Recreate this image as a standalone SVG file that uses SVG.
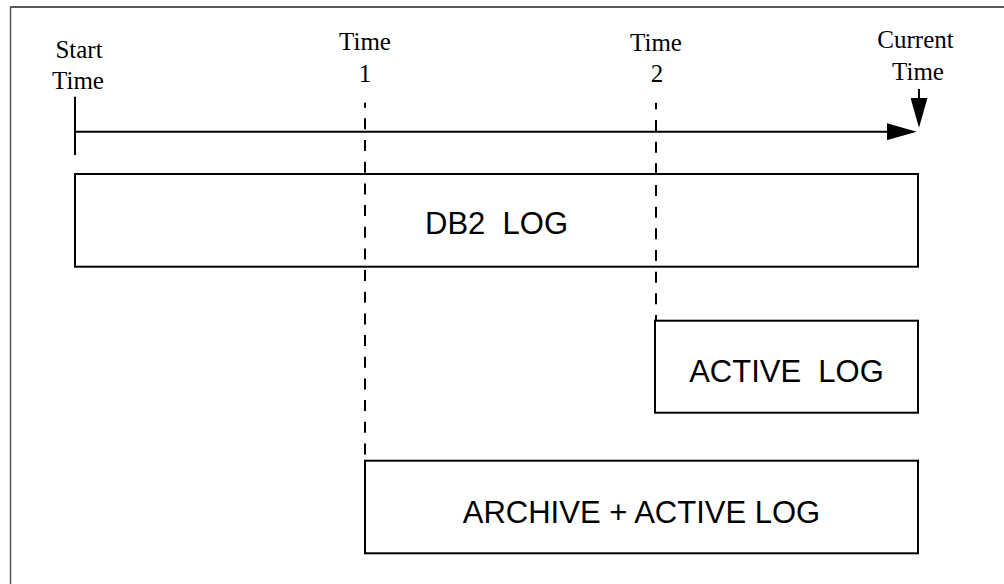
<svg xmlns="http://www.w3.org/2000/svg" width="1004" height="584" viewBox="0 0 1004 584">
<style>
.box{fill:#fff;stroke:#000;stroke-width:2}
.lbl{font-family:"Liberation Sans",Arial,sans-serif;font-size:31px;fill:#000;text-anchor:middle}
.tl{font-family:"Liberation Serif","Times New Roman",serif;font-size:25px;fill:#000;text-anchor:middle}
.solid{stroke:#000;stroke-width:2;fill:none}
.dash{stroke:#000;stroke-width:2;fill:none;stroke-dasharray:11 10.67}
</style>
<defs>
<marker id="ah" markerUnits="userSpaceOnUse" markerWidth="30" markerHeight="17" refX="20" refY="8.5" orient="auto">
<path d="M0,0 L30,8.5 L0,17 Z" fill="#000"/>
</marker>
</defs>
<rect width="1004" height="584" fill="#fff"/>
<g id="frame">
<line x1="10" y1="7" x2="1004" y2="7" stroke="#222" stroke-width="1.5"/>
<line x1="10.5" y1="7" x2="10.5" y2="584" stroke="#555" stroke-width="1.5"/>
</g>
<g id="connectors">
<line class="solid" x1="75" y1="96.7" x2="75" y2="155"/>
<line class="solid" x1="75" y1="131.7" x2="906.7" y2="131.7" marker-end="url(#ah)"/>
<line class="solid" x1="919" y1="89" x2="919" y2="117.7" marker-end="url(#ah)"/>
<line class="dash" x1="365" y1="102.7" x2="365" y2="460" stroke-dashoffset="6"/>
<line class="dash" x1="656" y1="102.7" x2="656" y2="320" stroke-dashoffset="4.4"/>
</g>
<g id="label-start">
<text class="tl" x="79" y="58">Start</text>
<text class="tl" x="78" y="89">Time</text>
</g>
<g id="label-time1">
<text class="tl" x="365" y="50">Time</text>
<text class="tl" x="365" y="81.7">1</text>
</g>
<g id="label-time2">
<text class="tl" x="656" y="50.5">Time</text>
<text class="tl" x="657" y="81.7">2</text>
</g>
<g id="label-current">
<text class="tl" x="915.5" y="48">Current</text>
<text class="tl" x="918" y="79.5">Time</text>
</g>
<g id="db2-log">
<rect class="box" x="75" y="174" width="843" height="92.7" style="fill:none"/>
<text class="lbl" x="496.5" y="234.3" xml:space="preserve">DB2  LOG</text>
</g>
<g id="active-log">
<rect class="box" x="655" y="320.7" width="263" height="92"/>
<text class="lbl" x="786.5" y="381.7" xml:space="preserve">ACTIVE  LOG</text>
</g>
<g id="archive-active-log">
<rect class="box" x="365" y="460.7" width="553" height="92.6"/>
<text class="lbl" x="641.5" y="523.3">ARCHIVE + ACTIVE LOG</text>
</g>
</svg>
